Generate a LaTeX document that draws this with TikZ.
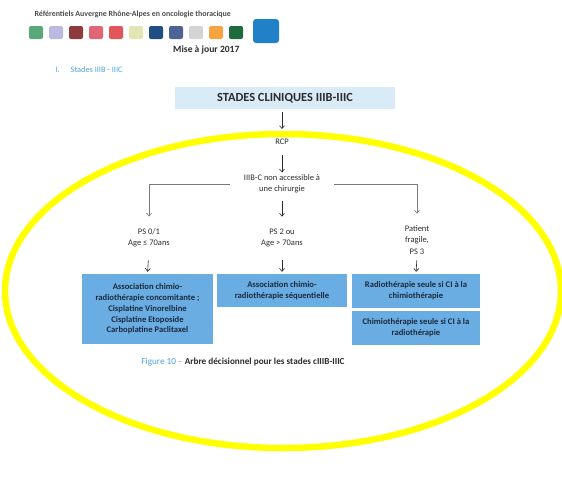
\documentclass[tikz,border=0pt]{standalone}
\usepackage{fontspec}
\setmainfont{Carlito}
\usetikzlibrary{arrows.meta}

\definecolor{inktext}{HTML}{2B2B2B}
\definecolor{boxtext}{HTML}{1C2A3E}
\definecolor{boxfill}{HTML}{69ADE2}
\definecolor{titlefill}{HTML}{D8EBF7}
\definecolor{linkblue}{HTML}{4EA3DA}
\definecolor{branchgrey}{HTML}{7A7A7A}
\definecolor{hilite}{HTML}{FFFF00}

\begin{document}
\begin{tikzpicture}[x=1pt,y=-1pt,
  txt/.style={font=\fontsize{8.5}{11.2}\selectfont, text=inktext, align=center, inner sep=2pt},
  decision/.style={draw=none, fill=boxfill, font=\bfseries\fontsize{8.6}{10.8}\selectfont,
    text=boxtext, align=center, inner sep=0pt},
  arr/.style={draw=inktext, line width=0.6pt, -{Straight Barb[length=3pt,width=5pt]}},
  branch/.style={draw=branchgrey, line width=0.6pt, -{Straight Barb[length=3pt,width=5pt]}},
  swatch/.style={rounded corners=2pt}
]
\useasboundingbox (0,0) rectangle (562,498);

% page header
\node[anchor=west, font=\bfseries\fontsize{7.9}{9}\selectfont, text=inktext!85]
  (header) at (31,14) {Référentiels Auvergne Rhône-Alpes en oncologie thoracique};

% colour swatches of the series
\foreach \c [count=\i from 0] in {5AA87A,B9B9E2,8E3B3E,E06676,E2555B,E3E6B4,1F4F82,4D6393,D2D4D6,F5A442,1F6B3D}{
  \definecolor{sw}{HTML}{\c}
  \fill[swatch, sw] ({29+20*\i},26) rectangle ++(14,13);
}
\fill[swatch, rounded corners=3pt, fill={rgb,255:red,32;green,128;blue,200}] (253,19) rectangle (279,43);

\node[anchor=east, font=\bfseries\fontsize{9.6}{11}\selectfont, text=inktext]
  (update) at (243,50) {Mise à jour 2017};

\node[anchor=west, font=\fontsize{8.3}{9}\selectfont, text=linkblue]
  (section) at (52,70) {I.\hspace{11pt}Stades IIIB - IIIC};

% decision tree
\node[fill=titlefill, minimum width=220pt, minimum height=22pt, inner sep=0pt,
  font=\bfseries\fontsize{12.4}{14}\selectfont, text=inktext]
  (title) at (285,98) {STADES CLINIQUES IIIB-IIIC};

\node[txt] (rcp) at (282,142) {RCP};
\node[txt, inner xsep=14pt] (cond) at (282,184) {IIIB-C non accessible à\\une chirurgie};

\node[txt] (ps01) at (149,238) {PS 0/1\\Age ≤ 70ans};
\node[txt] (ps2) at (282,238) {PS 2 ou\\Age > 70ans};
\node[txt] (frag) at (417,240) {Patient\\fragile,\\PS 3};

\node[decision, minimum width=131pt, minimum height=70pt] (b1) at (147.5,309)
  {Association chimio-\\radiothérapie concomitante ;\\Cisplatine Vinorelbine\\Cisplatine Etoposide\\Carboplatine Paclitaxel};
\node[decision, minimum width=130pt, minimum height=33pt] (b2) at (282,290.5)
  {Association chimio-\\radiothérapie séquentielle};
\node[decision, minimum width=128pt, minimum height=34pt] (b3) at (416,291)
  {Radiothérapie seule si CI à la\\chimiothérapie};
\node[decision, minimum width=128pt, minimum height=34pt] (b4) at (416,328)
  {Chimiothérapie seule si CI à la\\radiothérapie};

\draw[arr, shorten <=3pt, shorten >=8pt] (title.south -| rcp) -- (rcp.north);
\draw[arr, shorten <=8pt, shorten >=0pt] (rcp.south) -- (cond.north);
\draw[branch, shorten >=10pt] (cond.west) -| (ps01.north);
\draw[branch, shorten >=10pt] (cond.east) -| (frag.north);
\draw[arr, shorten <=6pt, shorten >=10pt] (cond.south) -- (ps2.north);
\draw[arr, shorten <=11pt, shorten >=2pt] (ps01.south) -- (b1.north);
\draw[arr, shorten <=11pt, shorten >=2pt] (ps2.south) -- (b2.north);
\draw[arr, shorten <=4pt, shorten >=2pt] (frag.south) -- (b3.north);

\node[font=\fontsize{9.2}{10}\selectfont, text=inktext] (caption) at (243,362)
  {\textcolor{linkblue}{Figure 10 –} \textbf{Arbre décisionnel pour les stades cIIIB-IIIC}};

% highlight ring
\draw[hilite, line width=6.5pt] (283,291) ellipse [x radius=278, y radius=157];
\end{tikzpicture}
\end{document}
